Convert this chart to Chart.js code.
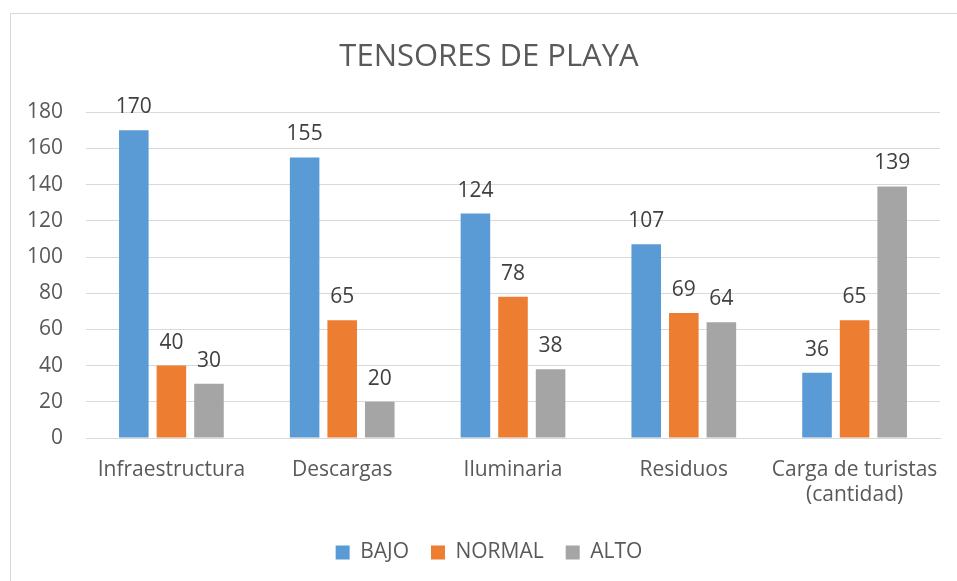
<html>
<head>
<script src="https://cdn.jsdelivr.net/npm/chart.js@4.4.0/dist/chart.umd.min.js"></script>
<style>
  body { margin:0; background:#fff; overflow:hidden; }
  #frame { position:absolute; left:10px; top:13px; width:1000px; height:600px; border-left:1px solid #d9d9d9; border-top:1px solid #d9d9d9; }
  #wrap { position:absolute; left:0; top:0; width:978px; height:581px; }
</style>
</head>
<body>
<div id="frame"></div>
<div id="wrap"><canvas id="chart"></canvas></div>
<script>
var categories = ['Infraestructura', 'Descargas', 'Iluminaria', 'Residuos', ['Carga de turistas', '(cantidad)']];
var bajo = [170, 155, 124, 107, 36];
var normal = [40, 65, 78, 69, 65];
var alto = [30, 20, 38, 64, 139];
var yTicks = [0, 20, 40, 60, 80, 100, 120, 140, 160, 180];

var FONT = "'Open Sans', sans-serif";
var TXT = '#595959';

// draws the value over each bar
var valueLabels = {
  id: 'valueLabels',
  afterDatasetsDraw: function(chart) {
    var ctx = chart.ctx;
    ctx.save();
    ctx.font = '21px ' + FONT;
    ctx.fillStyle = '#404040';
    ctx.textAlign = 'center';
    ctx.textBaseline = 'alphabetic';
    chart.data.datasets.forEach(function(ds, i) {
      chart.getDatasetMeta(i).data.forEach(function(bar, j) {
        ctx.fillText(ds.data[j], bar.x, bar.y - 17);
      });
    });
    ctx.restore();
  }
};

new Chart(document.getElementById('chart'), {
  type: 'bar',
  data: {
    labels: categories,
    datasets: [
      { label: 'BAJO', data: bajo, backgroundColor: '#5b9bd5' },
      { label: 'NORMAL', data: normal, backgroundColor: '#ed7d31' },
      { label: 'ALTO', data: alto, backgroundColor: '#a5a5a5' }
    ]
  },
  plugins: [valueLabels],
  options: {
    responsive: true,
    maintainAspectRatio: false,
    animation: false,
    categoryPercentage: 0.66,
    barPercentage: 0.787,
    layout: { padding: { left: 0, right: 0, top: 0, bottom: 8 } },
    plugins: {
      title: {
        display: true,
        text: 'TENSORES DE PLAYA',
        color: TXT,
        font: { family: FONT, size: 31, weight: 'normal' },
        padding: { top: 39, bottom: 36 }
      },
      legend: {
        position: 'bottom',
        labels: {
          color: TXT,
          font: { family: FONT, size: 21 },
          boxWidth: 14,
          boxHeight: 14,
          padding: 22
        }
      },
      tooltip: { enabled: false }
    },
    scales: {
      x: {
        grid: { display: false },
        border: { color: '#d9d9d9' },
        ticks: { color: TXT, font: { family: FONT, size: 21 }, padding: 11, maxRotation: 0 },
        afterFit: function(s) { s.height = 82; }
      },
      y: {
        min: 0,
        max: 180,
        afterBuildTicks: function(s) { s.ticks = yTicks.map(function(v) { return { value: v }; }); },
        grid: { color: '#d9d9d9', drawTicks: false },
        border: { display: false },
        ticks: { color: TXT, font: { family: FONT, size: 21 }, padding: 23 },
        afterFit: function(s) { s.width = 86; }
      },
      // empty right margin so the plot stops where the reference does
      yRight: {
        position: 'right',
        grid: { display: false },
        border: { display: false },
        ticks: { display: false },
        afterFit: function(s) { s.width = 38; }
      }
    }
  }
});
</script>
</body>
</html>
